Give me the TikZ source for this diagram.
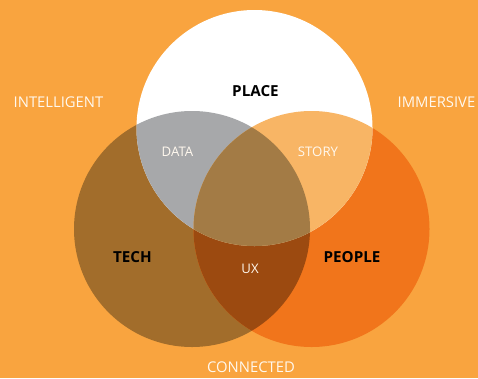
\documentclass[tikz,border=0pt]{standalone}
\usepackage{fontspec}
\setmainfont{Open Sans}
\definecolor{bgc}{HTML}{F9A43F}
\definecolor{techc}{HTML}{A26D2B}
\definecolor{peoplec}{HTML}{F1751B}
\definecolor{datac}{HTML}{A7A8AA}
\definecolor{storyc}{HTML}{F8B565}
\definecolor{centerc}{HTML}{A37B45}
\definecolor{uxc}{HTML}{9C4A10}
\definecolor{lightc}{HTML}{FFF8EE}
\tikzset{
  bold label/.style={font=\bfseries\fontsize{15.2}{17}\selectfont, text=black, inner sep=0pt},
  light label/.style={font=\fontsize{13.2}{15}\selectfont, text=lightc, inner sep=0pt},
  outer label/.style={font=\fontsize{14.8}{17}\selectfont, text=lightc, inner sep=0pt}
}
\begin{document}
\begin{tikzpicture}[x=1pt,y=-1pt]
\def\R{118}
\fill[bgc] (0,0) rectangle (478,378);
\useasboundingbox (0,0) rectangle (478,378);
\coordinate (L) at (254.5,128);
\coordinate (T) at (192,229);
\coordinate (P) at (311.5,229);
\fill[techc] (T) circle (\R);
\fill[peoplec] (P) circle (\R);
\fill[white] (L) circle (\R);
\begin{scope}
  \clip (T) circle (\R);
  \fill[uxc] (P) circle (\R);
\end{scope}
\begin{scope}
  \clip (L) circle (\R);
  \fill[datac] (T) circle (\R);
  \fill[storyc] (P) circle (\R);
\end{scope}
\begin{scope}
  \clip (L) circle (\R);
  \clip (T) circle (\R);
  \fill[centerc] (P) circle (\R);
\end{scope}
\node[bold label] (place) at (255.5,91.5) {PLACE};
\node[bold label] (tech) at (132.5,257) {TECH};
\node[bold label] (people) at (352,257) {PEOPLE};
\node[light label] (data) at (177.5,152) {DATA};
\node[light label] (story) at (318,152) {STORY};
\node[light label] (ux) at (250,269) {UX};
\node[outer label] (intel) at (58.5,102) {INTELLIGENT};
\node[outer label] (immer) at (436.5,102) {IMMERSIVE};
\node[outer label] (conn) at (251,367) {CONNECTED};
\end{tikzpicture}
\end{document}
